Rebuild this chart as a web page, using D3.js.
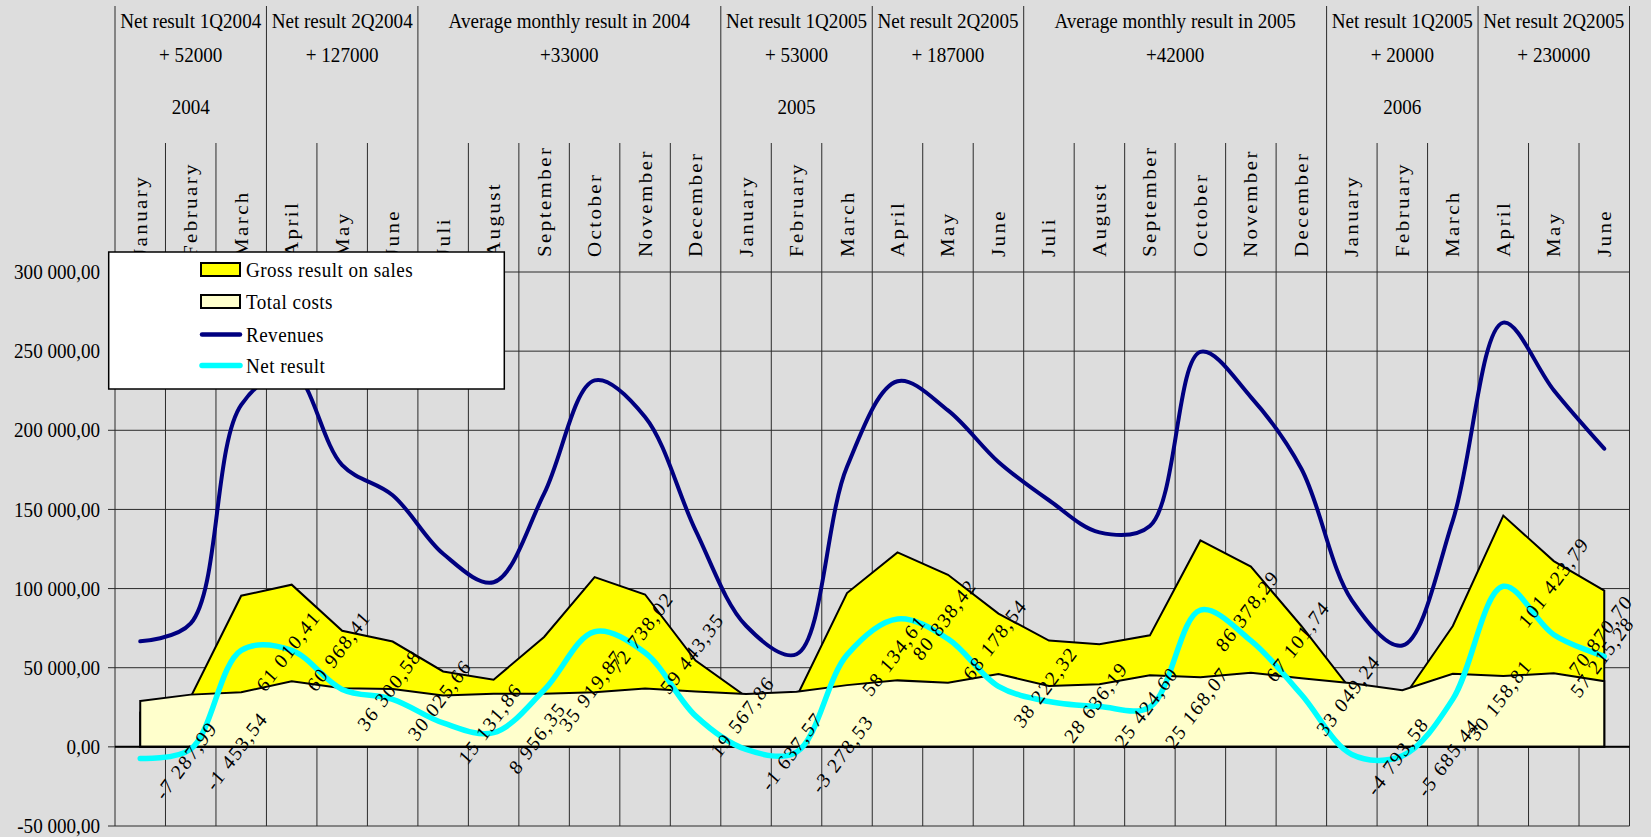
<!DOCTYPE html>
<html>
<head>
<meta charset="utf-8">
<script src="https://cdn.jsdelivr.net/npm/d3@7"></script>
<style>
  html, body { margin: 0; padding: 0; background: #dddddd; }
  svg { display: block; }
  text { font-family: "Liberation Serif", "Times New Roman", serif; fill: #000; }
</style>
</head>
<body>
<svg id="chart" width="1651" height="837"></svg>
<script>
// ---- data -------------------------------------------------------------
const months = [
  "January", "February", "March", "April", "May", "June",
  "Juli", "August", "September", "October", "November", "December",
  "January", "February", "March", "April", "May", "June",
  "Juli", "August", "September", "October", "November", "December",
  "January", "February", "March", "April", "May", "June"
];

const revenues = [
  66700, 78000, 216000, 237000, 178000, 159000, 122000, 104000, 160000, 231500, 208400, 136800,
  76500, 58500, 177000, 231000, 212600, 180000, 155800, 135500, 139500, 249500, 221000, 175700,
  92600, 64000, 143000, 268000, 225300, 188400
];

const grossResult = [
  21700, 31550, 95500, 102450, 73300, 66550, 47650, 42450, 69400, 107250, 96250, 54550,
  31750, 31500, 97150, 122850, 108700, 84200, 67150, 64900, 70450, 130400, 113900, 76350,
  35400, 30100, 76350, 146100, 117350, 98700
];

const totalCosts = [
  29000, 33000, 34500, 41500, 37000, 36500, 32500, 33500, 33500, 34500, 36800, 35000,
  33400, 34800, 39000, 42000, 40500, 46000, 38500, 39500, 45300, 44000, 46800, 43300,
  40200, 35800, 46200, 44700, 46500, 41500
];

const netResult = [
  -7287.99, -1453.54, 61010.41, 60968.41, 36300.58, 30025.66, 15131.86, 8956.35, 35919.87, 72738.02, 59443.35, 19567.86,
  -1637.57, -3278.53, 58134.61, 80838.42, 68178.54, 38222.32, 28636.19, 25424.60, 25168.07, 86378.29, 67101.74, 33049.24,
  -4793.58, -5685.44, 30158.81, 101423.79, 70870.70, 57215.28
];

const periodTitles = [
  "Net result 1Q2004", "Net result 2Q2004", "Average monthly result in 2004",
  "Net result 1Q2005", "Net result 2Q2005", "Average monthly result in 2005",
  "Net result 1Q2005", "Net result 2Q2005"
];
const periodResults = ["+ 52000", "+ 127000", "+33000", "+ 53000", "+ 187000", "+42000", "+ 20000", "+ 230000"];
const periodMonthCounts = [3, 3, 6, 3, 3, 6, 3, 3];
const periodYears = ["2004", "", "", "2005", "", "", "2006", ""];

const yTicks = [-50000, 0, 50000, 100000, 150000, 200000, 250000, 300000];

const seriesNames = ["Gross result on sales", "Total costs", "Revenues", "Net result"];

// ---- layout -----------------------------------------------------------
const W = 1651, H = 837;
const plot = { left: 115, right: 1629.5, top: 272, bottom: 826 };
const headerTop = 6, monthLineTop = 143;
const SQX = 0.91;               // horizontal squeeze applied to the serif text
const FONT = 21;

const colors = {
  bg: "#dddddd", grid: "#2b2b2b",
  gross: "#ffff00", costs: "#ffffcc",
  revenue: "#000080", net: "#00ffff"
};

const loc = d3.formatLocale({ decimal: ",", thousands: " ", grouping: [3], currency: ["", ""], minus: "-" });
const fmt = loc.format(",.2f");

const svg = d3.select("#chart");
svg.append("rect").attr("width", W).attr("height", H).attr("fill", colors.bg);

const x = d3.scaleBand().domain(d3.range(months.length)).range([plot.left, plot.right]);
const cx = i => x(i) + x.bandwidth() / 2;
const y = d3.scaleLinear().domain([-50000, 300000]).range([plot.bottom, plot.top]);

function squeezed(sel, tx, ty, extra = "") {
  return sel.attr("transform", `translate(${tx},${ty}) scale(${SQX},1)${extra}`);
}

// ---- grid ---------------------------------------------------------------
const grid = svg.append("g");
grid.selectAll("line.h").data(yTicks).join("line")
  .attr("x1", plot.left).attr("x2", plot.right)
  .attr("y1", d => y(d)).attr("y2", d => y(d))
  .attr("stroke", colors.grid).attr("stroke-width", 1);

const groupBounds = new Set([0]);
periodMonthCounts.reduce((acc, c) => { groupBounds.add(acc + c); return acc + c; }, 0);
const bounds = d3.range(months.length + 1);
grid.selectAll("line.v").data(bounds).join("line")
  .attr("x1", b => b === months.length ? plot.right : x(b))
  .attr("x2", b => b === months.length ? plot.right : x(b))
  .attr("y1", b => groupBounds.has(b) ? headerTop : monthLineTop)
  .attr("y2", plot.bottom)
  .attr("stroke", colors.grid).attr("stroke-width", 1);

// ---- header: periods, results, years, months -------------------------------
const header = svg.append("g").style("font-size", FONT + "px");
let start = 0;
periodMonthCounts.forEach((c, p) => {
  const mid = (x(start) + x(start) + c * x.bandwidth()) / 2;
  squeezed(header.append("text").attr("text-anchor", "middle").text(periodTitles[p]), mid, 27.5);
  squeezed(header.append("text").attr("text-anchor", "middle").text(periodResults[p]), mid, 61.5);
  if (periodYears[p]) {
    squeezed(header.append("text").attr("text-anchor", "middle").text(periodYears[p]), mid, 113.5);
  }
  start += c;
});

months.forEach((m, i) => {
  squeezed(header.append("text")
      .attr("text-anchor", "start")
      .attr("dy", "0.34em")
      .style("letter-spacing", "2.4px")
      .text(m), cx(i), 257, " rotate(-90)");
});

// ---- y axis -------------------------------------------------------------
const yAxis = svg.append("g");
yAxis.selectAll("line").data(yTicks).join("line")
  .attr("x1", plot.left - 7).attr("x2", plot.left)
  .attr("y1", d => y(d)).attr("y2", d => y(d))
  .attr("stroke", colors.grid).attr("stroke-width", 1);
yAxis.selectAll("text").data(yTicks).join("text")
  .attr("text-anchor", "end")
  .attr("dy", "0.34em")
  .style("font-size", FONT + "px")
  .text(d => fmt(d))
  .each(function (d) { squeezed(d3.select(this), 100, y(d)); });

// ---- areas --------------------------------------------------------------
const area = d3.area().x((d, i) => cx(i)).y0(y(0)).y1(d => y(d));
svg.append("path").datum(grossResult).attr("d", area)
  .attr("fill", colors.gross).attr("stroke", "#000").attr("stroke-width", 2).attr("stroke-linejoin", "miter");
svg.append("path").datum(totalCosts).attr("d", area)
  .attr("fill", colors.costs).attr("stroke", "#000").attr("stroke-width", 2).attr("stroke-linejoin", "miter");

svg.append("line")
  .attr("x1", plot.left).attr("x2", plot.right)
  .attr("y1", y(0)).attr("y2", y(0))
  .attr("stroke", "#000").attr("stroke-width", 2);

// ---- smoothed lines -------------------------------------------------------
const smooth = d3.line().x((d, i) => cx(i)).y(d => y(d)).curve(d3.curveCatmullRom.alpha(0.5));
svg.append("path").datum(revenues).attr("d", smooth)
  .attr("fill", "none").attr("stroke", colors.revenue).attr("stroke-width", 4)
  .attr("stroke-linejoin", "round").attr("stroke-linecap", "round");
svg.append("path").datum(netResult).attr("d", smooth)
  .attr("fill", "none").attr("stroke", colors.net).attr("stroke-width", 5.5)
  .attr("stroke-linejoin", "round").attr("stroke-linecap", "round");

// ---- net result value labels -----------------------------------------------
const labels = svg.append("g").style("font-size", FONT + "px");
netResult.forEach((v, i) => {
  const t = labels.append("text")
    .attr("text-anchor", "start")
    .style("letter-spacing", "1.5px")
    .text(fmt(v));
  let tx = cx(i) + 24, ty = y(v) + 43;
  squeezed(t, tx, ty, " rotate(-51)");
  const r = t.node().getBoundingClientRect();
  if (r.right > W - 9) {
    tx -= (r.right - (W - 9)) + 4;
    squeezed(t, tx, ty, " rotate(-51)");
  }
});

// ---- legend -------------------------------------------------------------
const legend = svg.append("g");
legend.append("rect")
  .attr("x", 108.7).attr("y", 252).attr("width", 395.6).attr("height", 137)
  .attr("fill", "#fff").attr("stroke", "#000").attr("stroke-width", 1.5);

const rowY = [269.5, 301.5, 334.5, 365.5];
legend.append("rect").attr("x", 201).attr("y", rowY[0] - 6.5).attr("width", 39).attr("height", 13)
  .attr("fill", colors.gross).attr("stroke", "#000").attr("stroke-width", 2);
legend.append("rect").attr("x", 201).attr("y", rowY[1] - 6.5).attr("width", 39).attr("height", 13)
  .attr("fill", colors.costs).attr("stroke", "#000").attr("stroke-width", 2);
legend.append("line").attr("x1", 202).attr("x2", 240).attr("y1", rowY[2]).attr("y2", rowY[2])
  .attr("stroke", colors.revenue).attr("stroke-width", 4.5).attr("stroke-linecap", "round");
legend.append("line").attr("x1", 202).attr("x2", 240).attr("y1", rowY[3]).attr("y2", rowY[3])
  .attr("stroke", colors.net).attr("stroke-width", 5.5).attr("stroke-linecap", "round");

seriesNames.forEach((name, k) => {
  squeezed(legend.append("text")
      .style("font-size", FONT + "px")
      .style("letter-spacing", "0.5px")
      .attr("dy", "0.34em")
      .text(name), 246, rowY[k]);
});
</script>
</body>
</html>
